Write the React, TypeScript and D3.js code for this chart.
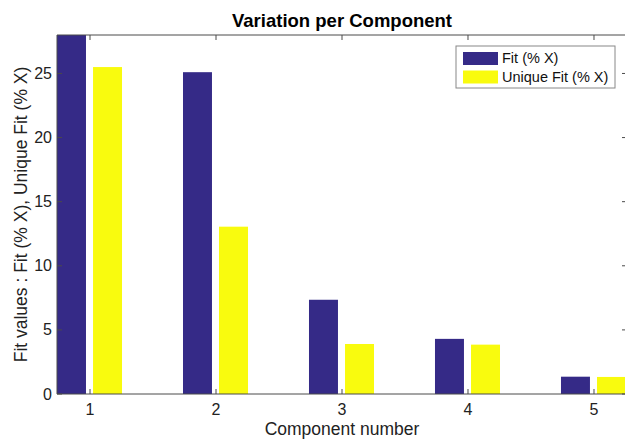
import React from "react";
import * as d3 from "d3";

const components = [1, 2, 3, 4, 5];
const fitValues = [29.5, 25.1, 7.35, 4.3, 1.35];
const uniqueFitValues = [25.5, 13.05, 3.9, 3.85, 1.33];
const yTicks = [0, 5, 10, 15, 20, 25];
const seriesNames = ["Fit (% X)", "Unique Fit (% X)"];
const seriesColors = ["#352a87", "#f9fb0e"];

export default function App() {
  const W = 625, H = 439;
  const left = 57, right = 627, top = 35, bottom = 394;
  const x = d3.scaleLinear().domain([0.738, 5.262]).range([left, right]);
  const y = d3.scaleLinear().domain([0, 28]).range([bottom, top]);
  const barW = 0.23;
  const offsets = [-0.147, 0.139];
  const series = [fitValues, uniqueFitValues];
  const font = "Liberation Sans, Arial, Helvetica, sans-serif";
  const axisColor = "#4a4a4a";
  const tickLen = 5;

  return (
    <svg width={W} height={H} style={{ position: "absolute", left: 0, top: 0, background: "#fff" }} fontFamily={font}>
      <defs>
        <clipPath id="plotclip">
          <rect x={left} y={top} width={right - left} height={bottom - top} />
        </clipPath>
      </defs>
      <rect x={0} y={0} width={W} height={H} fill="#fff" />
      <g clipPath="url(#plotclip)">
        {series.map((vals, si) =>
          vals.map((v, i) => {
            const c = components[i] + offsets[si];
            const x0 = x(c - barW / 2);
            const x1 = x(c + barW / 2);
            return (
              <rect key={`${si}-${i}`} x={x0} y={y(v)} width={x1 - x0} height={y(0) - y(v)} fill={seriesColors[si]} />
            );
          })
        )}
      </g>
      {/* axes box */}
      <line x1={left} x2={right} y1={bottom} y2={bottom} stroke={axisColor} strokeWidth={1} />
      <line x1={left} x2={right} y1={top} y2={top} stroke={axisColor} strokeWidth={1} />
      <line x1={left} x2={left} y1={top} y2={bottom} stroke={axisColor} strokeWidth={1} />
      <line x1={right} x2={right} y1={top} y2={bottom} stroke={axisColor} strokeWidth={1} />
      {components.map((c) => (
        <g key={c}>
          <line x1={x(c)} x2={x(c)} y1={bottom} y2={bottom - tickLen} stroke={axisColor} />
          <line x1={x(c)} x2={x(c)} y1={top} y2={top + tickLen} stroke={axisColor} />
          <text x={x(c)} y={bottom + 21} fontSize={16} textAnchor="middle" fill="#222">{c}</text>
        </g>
      ))}
      {yTicks.map((t) => (
        <g key={t}>
          <line x1={left} x2={left + tickLen} y1={y(t)} y2={y(t)} stroke={axisColor} />
          <line x1={right - tickLen} x2={right} y1={y(t)} y2={y(t)} stroke={axisColor} />
          <text x={left - 5} y={y(t) + 5.5} fontSize={16} textAnchor="end" fill="#222">{t}</text>
        </g>
      ))}
      <text x={(left + right) / 2} y={27} fontSize={18.5} fontWeight="bold" textAnchor="middle" fill="#000">Variation per Component</text>
      <text x={(left + right) / 2} y={434.5} fontSize={17.5} textAnchor="middle" fill="#222">Component number</text>
      <text transform={`translate(27, ${(top + bottom) / 2}) rotate(-90)`} fontSize={17.5} textAnchor="middle" fill="#222">
        Fit values : Fit (% X), Unique Fit (% X)
      </text>
      {/* legend */}
      <rect x={456} y={46} width={159} height={42} fill="#fff" stroke="#888" strokeWidth={1} />
      {seriesNames.map((n, i) => (
        <g key={n}>
          <rect x={463} y={52 + i * 18.5} width={35} height={13} fill={seriesColors[i]} />
          <text x={502} y={63 + i * 18.5} fontSize={14.5} fill="#111">{n}</text>
        </g>
      ))}
    </svg>
  );
}
